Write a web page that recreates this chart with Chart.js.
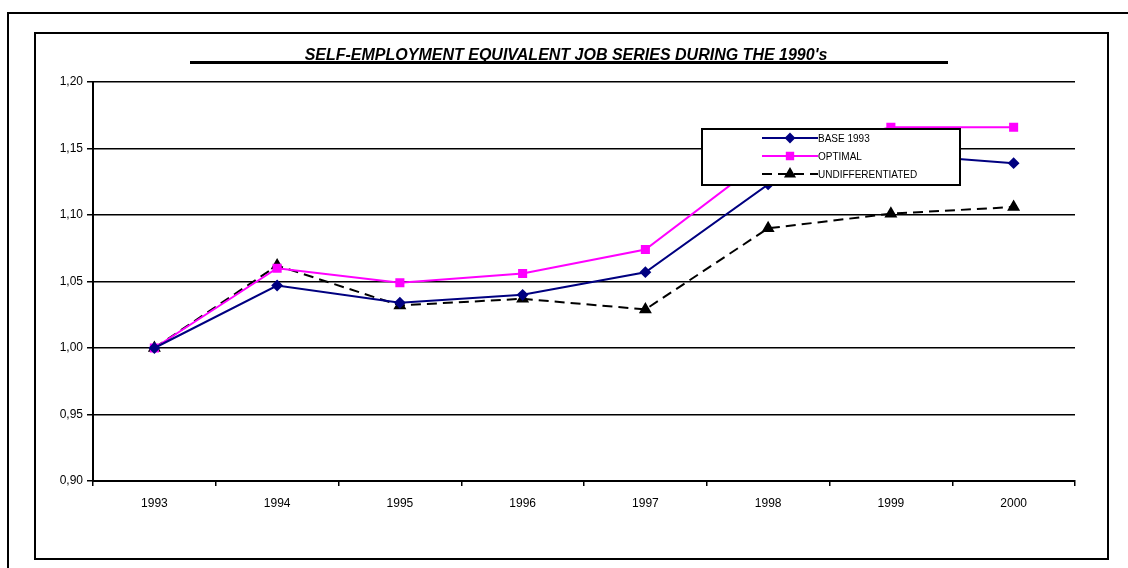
<!DOCTYPE html>
<html>
<head>
<meta charset="utf-8">
<script src="https://cdn.jsdelivr.net/npm/chart.js@4"></script>
<style>
  html, body { margin: 0; padding: 0; background: #fff; }
  #wrap { width: 1128px; height: 568px; position: relative; }
</style>
</head>
<body>
<div id="wrap"><canvas id="chartCanvas" width="1128" height="568"></canvas></div>
<script>
// data
var years = ['1993', '1994', '1995', '1996', '1997', '1998', '1999', '2000']
var base1993 = [1.000, 1.047, 1.034, 1.040, 1.057, 1.123, 1.146, 1.139]
var optimal = [1.000, 1.060, 1.049, 1.056, 1.074, 1.144, 1.166, 1.166]
var undifferentiated = [1.000, 1.062, 1.032, 1.037, 1.029, 1.090, 1.101, 1.106]
var seriesNames = ['BASE 1993', 'OPTIMAL', 'UNDIFFERENTIATED']
var chartTitle = "SELF-EMPLOYMENT EQUIVALENT JOB SERIES DURING THE 1990's"

var font = 'Arial, "Liberation Sans", sans-serif'

// frames and the underlined title
var framePlugin = {
    id: 'frames',
    beforeDraw(chart) {
        var ctx = chart.ctx
        ctx.save()
        ctx.strokeStyle = '#000'
        ctx.lineWidth = 2
        // outer frame, runs off the page on the right and bottom
        ctx.beginPath()
        ctx.moveTo(1140, 13)
        ctx.lineTo(8, 13)
        ctx.lineTo(8, 580)
        ctx.stroke()
        // inner frame
        ctx.strokeRect(35, 33, 1073, 526)
        // title
        ctx.fillStyle = '#000'
        ctx.font = 'italic bold 16px ' + font
        ctx.textAlign = 'center'
        ctx.textBaseline = 'alphabetic'
        ctx.fillText(chartTitle, 566, 60)
        ctx.lineWidth = 3
        ctx.beginPath()
        ctx.moveTo(190, 62.5)
        ctx.lineTo(948, 62.5)
        ctx.stroke()
        ctx.restore()
    }
}

// legend box drawn on top of the lines
var legendPlugin = {
    id: 'boxLegend',
    afterDatasetsDraw(chart) {
        var ctx = chart.ctx
        var x = 702, y = 129, w = 258, h = 56
        ctx.save()
        ctx.fillStyle = '#fff'
        ctx.fillRect(x, y, w, h)
        ctx.strokeStyle = '#000'
        ctx.lineWidth = 2
        ctx.strokeRect(x, y, w, h)
        chart.data.datasets.forEach((ds, i) => {
            var ly = y + 9 + i * 18
            ctx.strokeStyle = ds.borderColor
            ctx.lineWidth = ds.borderWidth
            ctx.setLineDash(ds.borderDash || [])
            ctx.beginPath()
            ctx.moveTo(762, ly)
            ctx.lineTo(818, ly)
            ctx.stroke()
            ctx.setLineDash([])
            ctx.fillStyle = ds.pointBackgroundColor
            ctx.strokeStyle = ds.pointBackgroundColor
            Chart.helpers.drawPoint(ctx, {
                pointStyle: ds.pointStyle, radius: ds.pointRadius - 0.5, rotation: 0, borderWidth: 1
            }, 790, ly)
            ctx.fillStyle = '#000'
            ctx.font = '10px ' + font
            ctx.textAlign = 'left'
            ctx.textBaseline = 'middle'
            ctx.fillText(seriesNames[i], 818, ly + 1)
        })
        ctx.restore()
    }
}

var canvasChart = document.getElementById('chartCanvas')
var myChart = new Chart(canvasChart, {
    type: 'line',
    data: {
        labels: years,
        datasets: [
            {
                label: seriesNames[0], data: base1993,
                borderColor: '#000080', backgroundColor: '#000080',
                pointBackgroundColor: '#000080', pointBorderColor: '#000080',
                borderWidth: 2, pointStyle: 'rectRot', pointRadius: 4.5
            },
            {
                label: seriesNames[1], data: optimal,
                borderColor: '#ff00ff', backgroundColor: '#ff00ff',
                pointBackgroundColor: '#ff00ff', pointBorderColor: '#ff00ff',
                borderWidth: 2, pointStyle: 'rect', pointRadius: 5
            },
            {
                label: seriesNames[2], data: undifferentiated,
                borderColor: '#000', backgroundColor: '#000',
                pointBackgroundColor: '#000', pointBorderColor: '#000',
                borderWidth: 2, borderDash: [10, 6], pointStyle: 'triangle', pointRadius: 5.5
            }
        ]
    },
    options: {
        responsive: false,
        animation: false,
        events: [],
        layout: { padding: { top: 82, right: 53, left: 0, bottom: 0 } },
        plugins: { legend: { display: false }, title: { display: false }, tooltip: { enabled: false } },
        scales: {
            x: {
                offset: true,
                grid: { offset: true, drawOnChartArea: false, drawTicks: true, tickLength: 5, color: '#000', lineWidth: 1.5 },
                border: { color: '#000', width: 2 },
                ticks: { color: '#000', font: { family: font, size: 12 }, padding: 10, maxRotation: 0 },
                afterFit: s => { s.height = 87 }
            },
            y: {
                min: 0.9, max: 1.2,
                grid: { color: '#000', lineWidth: 1.5, tickLength: 6 },
                border: { color: '#000', width: 2 },
                ticks: {
                    stepSize: 0.05, color: '#000', font: { family: font, size: 12 }, padding: 4,
                    callback: v => v.toFixed(2).replace('.', ',')
                },
                afterFit: s => { s.width = 93 }
            }
        }
    },
    plugins: [framePlugin, legendPlugin]
})
</script>
</body>
</html>
